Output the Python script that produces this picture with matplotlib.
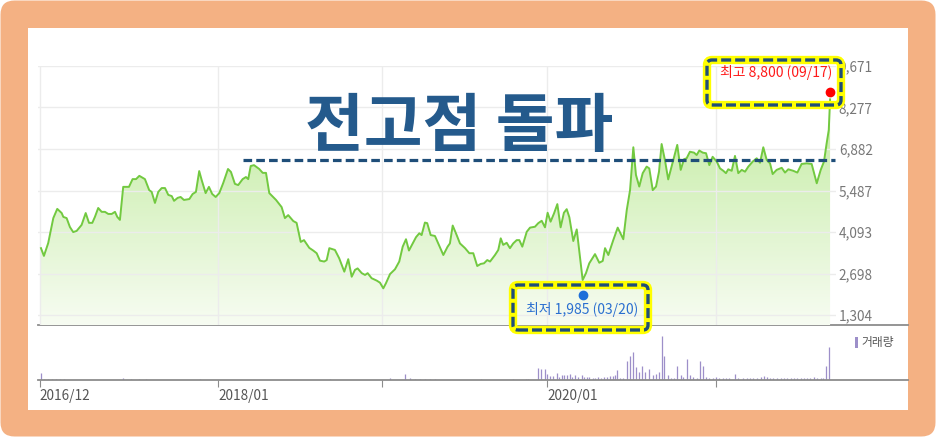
import numpy as np
import matplotlib
matplotlib.use('Agg')
import matplotlib.pyplot as plt
from matplotlib.patches import FancyBboxPatch, Rectangle
from matplotlib.colors import LinearSegmentedColormap

plt.rcParams['font.family'] = ['Noto Sans CJK KR', 'DejaVu Sans']

# ---------------- data ----------------
price_t = [
    2016.924, 2016.942, 2016.968, 2016.999, 2017.023, 2017.050, 2017.060, 2017.080, 2017.100, 2017.120,
    2017.141, 2017.171, 2017.196, 2017.216, 2017.236, 2017.252, 2017.272, 2017.293, 2017.313, 2017.333,
    2017.354, 2017.374, 2017.388, 2017.404, 2017.424, 2017.459, 2017.481, 2017.502, 2017.522, 2017.556,
    2017.582, 2017.597, 2017.617, 2017.637, 2017.658, 2017.678, 2017.698, 2017.719, 2017.733, 2017.755,
    2017.773, 2017.793, 2017.826, 2017.846, 2017.866, 2017.886, 2017.901, 2017.925, 2017.945, 2017.965,
    2017.986, 2018.008, 2018.032, 2018.061, 2018.079, 2018.103, 2018.123, 2018.150, 2018.170, 2018.184,
    2018.199, 2018.219, 2018.251, 2018.272, 2018.292, 2018.312, 2018.353, 2018.387, 2018.407, 2018.427,
    2018.458, 2018.478, 2018.503, 2018.523, 2018.555,
    2018.579, 2018.600, 2018.620, 2018.646, 2018.661, 2018.677, 2018.711, 2018.737, 2018.768, 2018.792,
    2018.813, 2018.833, 2018.849, 2018.874, 2018.894, 2018.910, 2018.934, 2018.965, 2018.985, 2019.005,
    2019.021, 2019.046, 2019.076, 2019.102, 2019.123, 2019.143, 2019.161, 2019.184, 2019.204, 2019.224,
    2019.238, 2019.258, 2019.272, 2019.293, 2019.319, 2019.339, 2019.370, 2019.396, 2019.410, 2019.427,
    2019.451, 2019.471, 2019.502, 2019.528, 2019.552, 2019.576, 2019.597, 2019.617, 2019.637, 2019.654,
    2019.684, 2019.704, 2019.719, 2019.734, 2019.755, 2019.775, 2019.795, 2019.816, 2019.832, 2019.850,
    2019.877, 2019.897, 2019.927, 2019.947, 2019.968, 2019.988, 2020.004, 2020.022, 2020.043, 2020.063,
    2020.083, 2020.103,
    2020.120, 2020.136, 2020.160, 2020.181, 2020.217, 2020.237, 2020.257, 2020.292, 2020.318, 2020.339,
    2020.353, 2020.373, 2020.403, 2020.430, 2020.464, 2020.485, 2020.505, 2020.525, 2020.541, 2020.561,
    2020.582, 2020.606, 2020.622, 2020.643, 2020.663, 2020.681, 2020.697, 2020.717, 2020.737, 2020.768,
    2020.792, 2020.813, 2020.833, 2020.849, 2020.869, 2020.894, 2020.910, 2020.926, 2020.947, 2020.967,
    2020.987, 2021.007, 2021.032, 2021.052, 2021.072, 2021.088, 2021.102, 2021.123, 2021.143, 2021.163,
    2021.184, 2021.204, 2021.224, 2021.251, 2021.275, 2021.295, 2021.315, 2021.336, 2021.356, 2021.372,
    2021.396, 2021.427, 2021.447, 2021.467, 2021.497, 2021.522, 2021.548, 2021.579, 2021.609, 2021.640,
    2021.664, 2021.684, 2021.700, 2021.713, 2021.721,
]
price_v = [
    3550, 3290, 3720, 4560, 4870, 4730, 4600, 4560, 4260, 4090,
    4130, 4330, 4730, 4400, 4400, 4600, 4900, 4770, 4770, 4700,
    4700, 4770, 4600, 4500, 5610, 5610, 5870, 5870, 5980, 5870,
    5500, 5440, 5070, 5440, 5570, 5570, 5340, 5300, 5140, 5240,
    5270, 5170, 5200, 5370, 5440, 6140, 5840, 5400, 5610, 5370,
    5270, 5400, 5740, 6210, 6110, 5710, 5670, 5870, 5940, 5870,
    6310, 6340, 6210, 6080, 6080, 5400, 5170, 4930, 4560, 4660,
    4460, 4400, 3760, 3820, 3560,
    3470, 3380, 3130, 3100, 3150, 3550, 3490, 3210, 2760, 3180,
    2590, 2820, 2870, 2710, 2650, 2710, 2540, 2460, 2390, 2200,
    2370, 2680, 2840, 3100, 3600, 3850, 3470, 3710, 3920, 4050,
    3990, 4410, 4390, 3990, 3960, 3710, 3320, 3600, 3710, 4310,
    3990, 3710, 3550, 3380, 3380, 2950, 3020, 3040, 3150, 3100,
    3320, 3490, 3880, 3660, 3730, 3550, 3710, 3820, 3820, 3600,
    4100, 4240, 4270, 4390, 4470, 4250, 4740, 4440, 4720, 5030,
    4250, 4740,
    4860, 4590, 3790, 4180, 2480, 2710, 3040, 3350, 3060, 3120,
    3550, 3320, 3820, 4240, 3850, 4830, 5500, 6940, 6010, 5620,
    6070, 6290, 6230, 5500, 5620, 6120, 7050, 6510, 5860, 6510,
    7020, 6180, 6540, 6570, 6790, 6760, 6680, 6830, 6760, 6740,
    6340, 6620, 6460, 6230, 6150, 6070, 6200, 6150, 6650, 6070,
    6180, 6120, 6290, 6460, 6570, 6420, 6940, 6510, 6400, 6040,
    6180, 6250, 6090, 6200, 6150, 6090, 6380, 6400, 6380, 5730,
    6180, 6460, 7070, 7520, 8550,
]

vol_t = [
    2016.922, 2016.942, 2016.967, 2016.991, 2017.015, 2017.040, 2017.064, 2017.424, 2017.471, 2017.520,
    2017.562, 2017.891, 2018.681, 2019.046, 2019.137, 2019.167, 2019.198, 2019.228, 2019.258, 2019.289,
    2019.319, 2019.597, 2019.795, 2019.871, 2019.886, 2019.947, 2019.962, 2019.988, 2020.002, 2020.018,
    2020.038, 2020.059, 2020.075, 2020.089, 2020.103, 2020.123, 2020.140, 2020.154, 2020.170, 2020.190,
    2020.211, 2020.225, 2020.241, 2020.257, 2020.278, 2020.292, 2020.312, 2020.327, 2020.347, 2020.363,
    2020.383, 2020.399, 2020.413, 2020.427, 2020.444, 2020.464, 2020.488, 2020.505, 2020.525, 2020.539,
    2020.561, 2020.576, 2020.596, 2020.622, 2020.643, 2020.663, 2020.681, 2020.697, 2020.713, 2020.737,
    2020.754, 2020.772, 2020.792, 2020.813, 2020.829, 2020.853, 2020.869, 2020.889, 2020.910, 2020.930,
    2020.950, 2020.967, 2020.987, 2021.007, 2021.027, 2021.047, 2021.068, 2021.088, 2021.108, 2021.143,
    2021.163, 2021.190, 2021.214, 2021.234, 2021.255, 2021.279, 2021.299, 2021.319, 2021.336, 2021.356,
    2021.376, 2021.400, 2021.421, 2021.441, 2021.461, 2021.482, 2021.502, 2021.518, 2021.542, 2021.562,
    2021.579, 2021.599, 2021.624, 2021.643, 2021.664, 2021.680, 2021.696, 2021.716,
]
vol_v = [
    700, 150, 150, 150, 150, 150, 100, 200, 100, 100,
    100, 100, 100, 200, 600, 200, 150, 150, 150, 150,
    150, 100, 100, 100, 100, 1200, 1100, 1100, 600, 400,
    400, 700, 300, 500, 500, 500, 600, 300, 500, 300,
    500, 300, 300, 300, 200, 200, 300, 200, 300, 300,
    400, 400, 500, 1000, 200, 200, 1900, 2400, 2800, 1300,
    800, 1400, 800, 1100, 500, 600, 800, 4400, 2400, 500,
    200, 200, 1400, 500, 300, 2100, 500, 300, 200, 1900,
    1400, 300, 200, 200, 300, 200, 200, 200, 200, 600,
    200, 200, 200, 200, 200, 200, 300, 400, 300, 200,
    200, 200, 200, 200, 200, 200, 200, 200, 200, 200,
    200, 200, 300, 200, 200, 200, 1400, 3300,
]

high_t, high_v = 2021.721, 8800
low_t, low_v = 2020.217, 1985
prev_high = 6510
prev_high_span = (2018.152, 2021.750)

ytick_vals = [1304, 2698, 4093, 5487, 6882, 8277, 9671]
xtick_vals = [2016.917, 2018.0, 2019.0, 2020.0, 2021.027]
xtick_labels = ['2016/12', '2018/01', '', '2020/01', '']

title_text = '전고점 돌파'
high_label = '최고 8,800 (09/17)'
low_label = '최저 1,985 (03/20)'
vol_label = '거래량'

# ---------------- figure & frame ----------------
fig = plt.figure(figsize=(9.36, 4.37), dpi=100)
fig.patch.set_facecolor('white')
fig.add_artist(FancyBboxPatch((0.005, 0.005), 9.35, 4.36,
                              boxstyle='round,pad=0,rounding_size=0.14',
                              transform=fig.dpi_scale_trans, facecolor='#F4B183',
                              edgecolor='none', zorder=-10))
fig.add_artist(Rectangle((0.28, 0.27), 8.80, 3.82, transform=fig.dpi_scale_trans,
                         facecolor='white', edgecolor='none', zorder=-9))

# ---------------- price panel ----------------
ymin, ymax = 968, 9671
xmin, xmax = 2016.906, 2021.757
ax = fig.add_axes([38/936, 1-325/437, 798/936, 259/437])
ax.set_zorder(3)
ax.patch.set_alpha(0)
for s in ax.spines.values():
    s.set_visible(False)

poly = ax.fill_between(price_t, price_v, ymin, facecolor='none', edgecolor='none')
grad = np.linspace(0, 1, 256).reshape(-1, 1)
cmap = LinearSegmentedColormap.from_list('g', ['#BBE995', '#F7FCF2'])
im = ax.imshow(grad, extent=[price_t[0], price_t[-1], ymin, ymax], aspect='auto',
               cmap=cmap, zorder=0.2, interpolation='bilinear')
im.set_clip_path(poly.get_paths()[0], transform=ax.transData)

ax.plot(price_t, price_v, color='#72C940', lw=1.4, zorder=2)

ax.set_xlim(xmin, xmax)
ax.set_ylim(ymin, ymax)
ax.set_yticks(ytick_vals)
ax.set_yticklabels([f'{v:,}' for v in ytick_vals])
ax.yaxis.tick_right()
ax.tick_params(axis='y', length=0, pad=2, labelsize=9.8, labelcolor='#777777')
ax.set_xticks(xtick_vals)
ax.tick_params(axis='x', length=0, labelbottom=False)
ax.grid(True, color='#ECECEC', lw=1)
ax.set_axisbelow(True)

ax.hlines(prev_high, prev_high_span[0], prev_high_span[1], colors='#1F4E79', lw=2.3,
          linestyles=(0, (2.7, 1.3)), zorder=4, clip_on=False)

ax.plot([high_t], [high_v], 'o', color='#FF0000', ms=6, zorder=5, clip_on=False)
ax.plot([low_t], [low_v], 'o', color='#1E6FD9', ms=6, zorder=5, clip_on=False)

ax.text(0.9255, 0.973, high_label, transform=ax.transAxes, ha='center', va='center',
        color='#FF1A1A', fontsize=10, zorder=6)
ax.text(0.6823, 0.058, low_label, transform=ax.transAxes, ha='center', va='center',
        color='#2A6FD0', fontsize=10, zorder=6)

ax.text(0.5276, 0.762, title_text, transform=ax.transAxes, ha='center', va='center',
        color='#245A8C', fontsize=46, fontweight='bold', zorder=6)

# highlight boxes
def hbox(x0, y0, w, h):
    for ec, lw, ls in [('#FFFF00', 6, '-'), ('#1F4E79', 2.4, (0, (3, 1.2)))]:
        fig.add_artist(FancyBboxPatch((x0, y0), w, h,
                                      boxstyle='round,pad=0,rounding_size=0.05',
                                      transform=fig.dpi_scale_trans, facecolor='none',
                                      edgecolor=ec, lw=lw, linestyle=ls, zorder=10))

hbox(7.07, 3.32, 1.34, 0.45)
hbox(5.13, 1.07, 1.35, 0.45)

# ---------------- volume panel ----------------
axv = fig.add_axes([38/936, 1-380/437, 870/936, 55/437])
axv.set_zorder(1)
axv.set_xlim(xmin, 2022.1945)
axv.set_ylim(0, 5500)
axv.vlines(vol_t, 0, vol_v, colors='#9D8FC9', lw=0.9)
for side in ['left', 'right']:
    axv.spines[side].set_visible(False)
for side in ['top', 'bottom']:
    axv.spines[side].set_color('#8C8C8C')
    axv.spines[side].set_linewidth(1.3)
axv.set_yticks([])
axv.set_xticks(xtick_vals)
axv.set_xticklabels(xtick_labels)
axv.tick_params(axis='x', length=5, color='#8C8C8C', labelsize=9.8,
                labelcolor='#555555', pad=1.5)
for lbl in axv.get_xticklabels():
    lbl.set_ha('left')

axv.add_patch(Rectangle((0.939, 0.58), 0.0035, 0.2, transform=axv.transAxes,
                        facecolor='#9D8FC9', edgecolor='none', clip_on=False))
axv.text(0.946, 0.68, vol_label, transform=axv.transAxes, ha='left', va='center',
         fontsize=8.5, color='#555555')

fig.savefig('out.png', dpi=100)
